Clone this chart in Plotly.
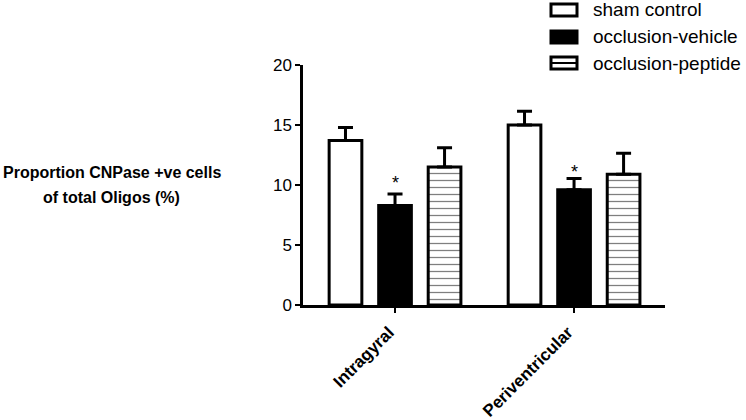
import plotly.graph_objects as go

# ---- data ----
categories = ["Intragyral", "Periventricular"]
series_names = ["sham control", "occlusion-vehicle", "occlusion-peptide"]
sham_mean = [13.7, 15.0]
sham_sem = [1.1, 1.15]
vehicle_mean = [8.3, 9.6]
vehicle_sem = [0.95, 0.95]
peptide_mean = [11.5, 10.9]
peptide_sem = [1.6, 1.75]
y_ticks = [0, 5, 10, 15, 20]
y_title_lines = ["Proportion CNPase +ve cells", "of total Oligos (%)"]
significance_marker = "*"
significance_y = [10.4, 11.3]   # height of the asterisk over each vehicle bar

FONT = "Arial, 'Liberation Sans', Helvetica, sans-serif"

# layout geometry (pixels)
W, H = 746, 420
ML, MR, MT, MB = 303, 81, 65, 115
PW, PH = W - ML - MR, H - MT - MB


def px_x(px):
    return (px - ML) / PW


def px_y(py):
    return (H - MB - py) / PH


fig = go.Figure()

common = dict(marker_line=dict(color="black", width=3), showlegend=False,
              hoverinfo="skip")
err_style = dict(type="data", symmetric=False, color="black", thickness=3, width=7.5)

fig.add_trace(go.Bar(
    x=categories, y=sham_mean, name=series_names[0],
    marker_color="white",
    error_y=dict(array=sham_sem, arrayminus=[0] * len(sham_sem), **err_style),
    **common))
fig.add_trace(go.Bar(
    x=categories, y=vehicle_mean, name=series_names[1],
    marker_color="black",
    error_y=dict(array=vehicle_sem, arrayminus=[0] * len(vehicle_sem), **err_style),
    **common))
fig.add_trace(go.Bar(
    x=categories, y=peptide_mean, name=series_names[2],
    marker=dict(color="white",
                pattern=dict(shape="-", fgcolor="black", bgcolor="white",
                             size=7, solidity=0.18)),
    error_y=dict(array=peptide_sem, arrayminus=[0] * len(peptide_sem), **err_style),
    **common))

# significance asterisks above vehicle bars (middle bar of each group)
for cat, sy in zip(categories, significance_y):
    fig.add_annotation(x=cat, y=sy, xref="x", yref="y", text=significance_marker,
                       showarrow=False, yanchor="middle", yshift=-3,
                       font=dict(family=FONT, size=18, color="black"))

# y-axis title (two lines)
for i, line in enumerate(y_title_lines):
    fig.add_annotation(x=px_x(112), y=px_y(172 + 25 * i), xref="paper", yref="paper",
                       text=f"<b>{line}</b>", showarrow=False,
                       xanchor="center", yanchor="middle",
                       font=dict(family=FONT, size=16, color="black"))

# custom legend
legend_rows = [10, 37, 63]
for name, row, kind in zip(series_names, legend_rows, ["open", "filled", "striped"]):
    x0, x1 = px_x(551), px_x(577)
    y0, y1 = px_y(row + 6), px_y(row - 6)
    fig.add_shape(type="rect", xref="paper", yref="paper", x0=x0, x1=x1, y0=y0, y1=y1,
                  line=dict(color="black", width=3),
                  fillcolor="black" if kind == "filled" else "white")
    if kind == "striped":
        fig.add_shape(type="line", xref="paper", yref="paper", x0=x0, x1=x1,
                      y0=px_y(row), y1=px_y(row), line=dict(color="black", width=2))
    fig.add_annotation(x=px_x(591), y=px_y(row), xref="paper", yref="paper",
                       text=name, showarrow=False, xanchor="left", yanchor="middle",
                       font=dict(family=FONT, size=19, color="black"))

fig.update_layout(
    width=W, height=H,
    margin=dict(l=ML, r=MR, t=MT, b=MB, pad=0, autoexpand=False),
    paper_bgcolor="white", plot_bgcolor="white",
    barmode="group", bargap=0.17, bargroupgap=0.34,
    showlegend=False,
    font=dict(family=FONT, color="black"),
)
fig.update_xaxes(
    range=[-0.514, 1.508], showgrid=False, zeroline=False, automargin=False,
    showline=True, linecolor="black", linewidth=2.5,
    ticks="outside", ticklen=5, tickwidth=2, tickcolor="black",
    tickangle=-45, tickfont=dict(family=FONT, size=17, color="black"),
    tickprefix="<b>", ticksuffix="</b>",
    ticklabelstandoff=3, ticklabelshift=-6,
)
fig.update_yaxes(
    range=[0, 20], tickvals=y_ticks, showgrid=False, zeroline=False, automargin=False,
    showline=True, linecolor="black", linewidth=2.5,
    ticks="outside", ticklen=5, tickwidth=2, tickcolor="black",
    tickfont=dict(family=FONT, size=17, color="black"),
    tickprefix="<b>", ticksuffix="</b>",
)

fig.write_html("out.html", config={"displayModeBar": False},
               post_script="document.body.style.margin='0px';")
